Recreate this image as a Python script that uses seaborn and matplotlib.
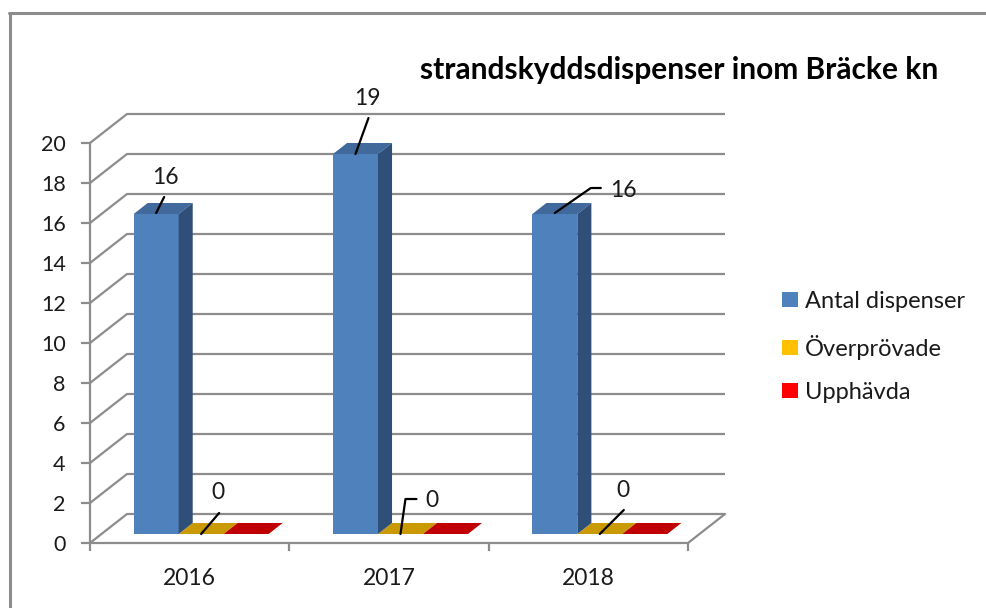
import numpy as np
import pandas as pd
import matplotlib
matplotlib.use("Agg")
import matplotlib.pyplot as plt
import seaborn as sns
from matplotlib.patches import Polygon, Patch
from matplotlib.lines import Line2D
from matplotlib.transforms import IdentityTransform

# ---- data ----
years = ["2016", "2017", "2018"]
antal = [16, 19, 16]
overprovade = [0, 0, 0]
upphavda = [0, 0, 0]
series = ["Antal dispenser", "Överprövade", "Upphävda"]
title = "strandskyddsdispenser inom Bräcke kn"
yticks = list(range(0, 21, 2))

df = pd.DataFrame({
    "year": years * 3,
    "series": [s for s in series for _ in years],
    "value": antal + overprovade + upphavda,
})

front_colors = ["#4F81BD", "#FFC000", "#FF0000"]
top_colors = ["#41699B", "#C99A06", "#C00000"]
side_colors = ["#2F4F78", "#9C7700", "#900000"]
grid_c = "#8C8C8C"

sns.set_theme(style="white")
plt.rcParams["font.family"] = ["Lato", "DejaVu Sans"]

W, H = 986, 608
fig = plt.figure(figsize=(W / 100, H / 100), dpi=100)
fig.patch.set_facecolor("white")
ax = fig.add_axes([90 / W, (H - 543) / H, 598 / W, 400 / H])

sns.barplot(data=df, x="year", y="value", hue="series", order=years,
            hue_order=series, palette=front_colors, width=0.677,
            errorbar=None, saturation=1, legend=False, ax=ax)
ax.set_xlim(-0.5, 2.5)
ax.set_ylim(0, 20)
ax.set_xlabel("")
ax.set_ylabel("")
ax.patch.set_alpha(0)

# 3D depth geometry (in data units)
DX = 37 / (598 / 3)
DY = 29 / 20
ZF, ZB = 0.31, 0.69
ddx, ddy = (ZB - ZF) * DX, (ZB - ZF) * DY

# back wall / side wall gridlines
for v in yticks:
    ax.plot([-0.5, -0.5 + DX, 2.5 + DX], [v, v + DY, v + DY], color=grid_c,
            lw=1.6, clip_on=False, zorder=1, solid_capstyle="butt")
ax.plot([2.5, 2.5 + DX], [0, DY], color=grid_c, lw=1.6, clip_on=False, zorder=1)

# bars -> pseudo 3D
tops = {}
for i, cont in enumerate(ax.containers):
    for j, bar in enumerate(cont):
        x0, w, h = bar.get_x(), bar.get_width(), bar.get_height()
        fx, fy = x0 + ZF * DX, ZF * DY
        bar.set_x(fx)
        bar.set_y(fy)
        bar.set_linewidth(0)
        bar.set_zorder(3)
        bar.set_clip_on(False)
        ax.add_patch(Polygon([(fx, fy + h), (fx + w, fy + h),
                              (fx + w + ddx, fy + h + ddy), (fx + ddx, fy + h + ddy)],
                             closed=True, facecolor=top_colors[i], lw=0,
                             zorder=3, clip_on=False))
        if h > 0:
            ax.add_patch(Polygon([(fx + w, fy), (fx + w + ddx, fy + ddy),
                                  (fx + w + ddx, fy + h + ddy), (fx + w, fy + h)],
                                 closed=True, facecolor=side_colors[i], lw=0,
                                 zorder=4, clip_on=False))
        tops[(i, j)] = (fx + w / 2, fy + h)

# axes styling
for s in ["top", "right"]:
    ax.spines[s].set_visible(False)
for s in ["left", "bottom"]:
    ax.spines[s].set_color(grid_c)
    ax.spines[s].set_linewidth(1.6)
    ax.spines[s].set_zorder(2)
ax.set_yticks(yticks)
ax.set_yticklabels([str(v) for v in yticks])
ax.tick_params(axis="y", length=6.5, width=1.6, color=grid_c, direction="out",
               labelsize=15.5, pad=11, left=True, labelcolor="#1a1a1a")
ax.set_xticks([-0.5, 0.5, 1.5, 2.5])
ax.set_xticklabels([])
ax.set_xticks([0, 1, 2], minor=True)
ax.set_xticklabels(years, minor=True)
ax.tick_params(axis="x", which="major", length=6, width=1.6, color=grid_c,
               direction="out", bottom=True)
ax.tick_params(axis="x", which="minor", length=0, labelsize=16.5, pad=18,
               labelcolor="#1a1a1a")

# data labels with leader lines (offsets in pixels from bar top-front centre)
labels = [
    ((0, 0), [(0, 1), (8, 17)], (9, 37)),
    ((0, 1), [(0, 0), (13, 36)], (12, 56)),
    ((0, 2), [(0, 1), (36, 26), (46, 26)], (69, 24)),
    ((1, 0), [(0, 0), (18, 21)], (17, 42)),
    ((1, 1), [(0, 0), (5, 35), (16, 35)], (31, 34)),
    ((1, 2), [(0, 0), (24, 24)], (23, 44)),
]
values = [antal, overprovade, upphavda]
fig.canvas.draw()
for (i, j), path, toff in labels:
    px, py = ax.transData.transform(tops[(i, j)])
    xs = [px + a for a, b in path]
    ys = [py + b for a, b in path]
    fig.add_artist(Line2D(xs, ys, transform=IdentityTransform(), color="black",
                          lw=1.6, zorder=6))
    ax.annotate(str(values[i][j]), xy=tops[(i, j)], xytext=toff,
                textcoords="offset pixels", ha="center", va="center",
                fontsize=16.5, color="#1a1a1a", zorder=6, annotation_clip=False)

# legend
handles = [Patch(facecolor=c, edgecolor="none") for c in front_colors]
fig.legend(handles, series, loc="center left",
           bbox_to_anchor=(782 / W, 1 - 347 / H), frameon=False,
           fontsize=17, handlelength=0.66, handleheight=0.61,
           handletextpad=0.33, labelspacing=0.95, borderpad=0,
           borderaxespad=0, labelcolor="#1a1a1a")

# title
fig.text(679.5 / W, 1 - 70 / H, title, ha="center", va="center",
         fontsize=21.5, fontweight="bold", color="black")

# outer frame (partially visible)
fig.add_artist(Line2D([9 / W, 1], [1 - 13 / H, 1 - 13 / H], color=grid_c,
                      lw=2.2, transform=fig.transFigure))
fig.add_artist(Line2D([10 / W, 10 / W], [0, 1 - 13 / H], color=grid_c,
                      lw=2.2, transform=fig.transFigure))

fig.savefig("out.png", dpi=100)
